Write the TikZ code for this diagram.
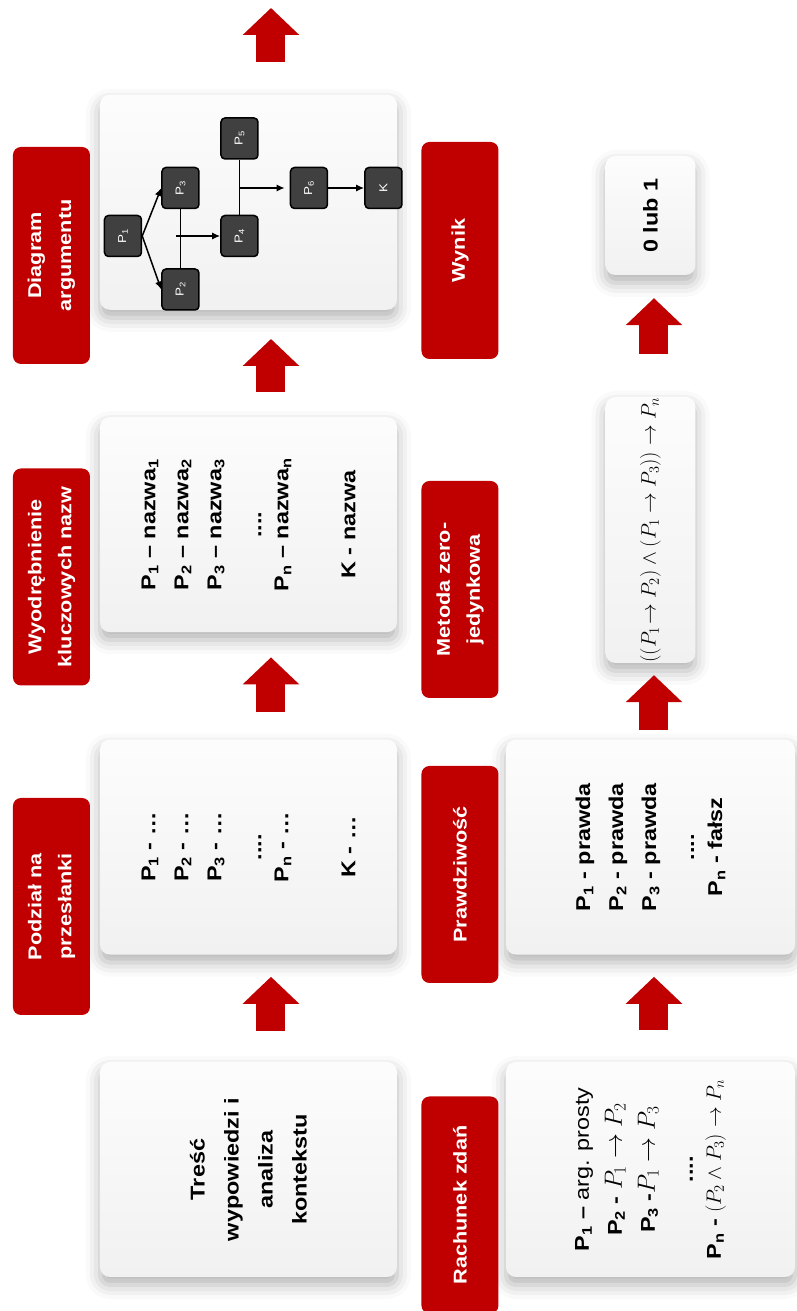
\documentclass[tikz,border=0pt]{standalone}
\usepackage[no-math]{fontspec}
\setmainfont{Liberation Sans}[FakeStretch=1.17]
\usepackage{xcolor}
\usepackage{tikz}
\usetikzlibrary{arrows.meta, positioning, calc, shadows.blur}
\definecolor{labred}{RGB}{192,0,0}
\definecolor{keygray}{RGB}{64,64,64}
\newcommand{\prem}[1]{P\textsubscript{#1}}

\begin{document}
\begin{tikzpicture}[
    x=1pt, y=1pt, rotate=90, transform shape,
    node distance=107pt,
    box/.style={rectangle, rounded corners=10pt, top color=gray!2, bottom color=gray!11,
                inner sep=0pt, align=center, font=\bfseries\fontsize{20}{33}\selectfont,
                blur shadow={shadow xshift=0pt, shadow yshift=-8pt,
                             shadow blur radius=14pt, shadow opacity=30}},
    lbl/.style={rectangle, rounded corners=8pt, fill=labred, text=white, align=center,
                minimum width=217pt, minimum height=77pt,
                font=\bfseries\fontsize{18.5}{30}\selectfont},
    key/.style={rectangle, rounded corners=4pt, draw=black, line width=1.5pt, fill=keygray,
                text=white, minimum width=41pt, minimum height=37pt, inner sep=0pt,
                font=\fontsize{11.5}{12}\selectfont},
    bigarr/.style={labred, line width=29pt, -{Triangle[length=27pt, width=55pt]}},
    arr/.style={-{Latex[length=8pt, width=7pt]}, line width=1.5pt},
    link/.style={line width=1.5pt}
]
  \useasboundingbox (0,0) rectangle (1311,796);

  % first row
  \node[box, minimum width=215pt, minimum height=297pt,
        font=\bfseries\fontsize{20}{34}\selectfont] (tresc) at (141.5,547.5)
       {Treść\\wypowiedzi i\\analiza\\kontekstu};
  \node[box, minimum width=215pt, minimum height=297pt, right=of tresc] (podzial)
       {\prem{1} - …\\\prem{2} - …\\\prem{3} - …\\[7pt]....\\[-6pt]\prem{n} - …\\[34pt]K - …};
  \node[box, minimum width=215pt, minimum height=297pt, right=of podzial] (wyod)
       {\prem{1} – nazwa\textsubscript{1}\\\prem{2} – nazwa\textsubscript{2}\\
        \prem{3} – nazwa\textsubscript{3}\\[7pt]....\\[-6pt]\prem{n} – nazwa\textsubscript{n}\\[34pt]K - nazwa};
  \node[box, minimum width=215pt, minimum height=297pt, right=of wyod] (diagram) {};

  \node[lbl] (lpodzial)  at (404.5,744.5)  {Podział na\\przesłanki};
  \node[lbl] (lwyod)     at (734,744.5)    {Wyodrębnienie\\kluczowych nazw};
  \node[lbl] (ldiagram)  at (1055.5,744.5) {Diagram\\argumentu};

  % second row
  \node[box, minimum width=215pt, minimum height=289pt] (rachunek) at (141.5,145.5)
       {\prem{1} – {\mdseries arg. prosty}\\
        \prem{2} - {\fontsize{25}{33}\selectfont$P_1 \rightarrow P_2$}\\
        \prem{3} -{\fontsize{25}{33}\selectfont$P_1 \rightarrow P_3$}\\[5pt]
        ....\\[-5pt]
        \prem{n} - {\fontsize{20}{33}\selectfont$(P_2 \wedge P_3) \rightarrow P_n$}};
  \node[box, minimum width=215pt, minimum height=289pt, right=of rachunek] (prawda)
       {\prem{1} - prawda\\\prem{2} - prawda\\\prem{3} - prawda\\[5pt]....\\[-5pt]\prem{n} - fałsz};
  \node[box, minimum width=266pt, minimum height=90pt,
        font=\fontsize{20}{24}\selectfont] (formula) at (781,145.5)
       {$((P_1\!\rightarrow P_2)\wedge(P_1 \rightarrow P_3)) \rightarrow P_n$};
  \node[box, minimum width=119pt, minimum height=90pt] (wynik) at (1095.5,145.5) {0 lub 1};

  \node[lbl] (lrachunek) at (106,336)    {Rachunek zdań};
  \node[lbl] (lprawda)   at (436.5,336)  {Prawdziwość};
  \node[lbl] (lmetoda)   at (721.5,336)  {Metoda zero-\\jedynkowa};
  \node[lbl] (lwynik)    at (1060.5,336) {Wynik};

  % block arrows
  \coordinate (out) at (1303,525);
  \draw[bigarr, shorten <=31pt, shorten >=22pt] ([yshift=-22.5pt]tresc.east) -- ([yshift=-22.5pt]podzial.west);
  \draw[bigarr, shorten <=27pt, shorten >=25pt] ([yshift=-22.5pt]podzial.east) -- ([yshift=-22.5pt]wyod.west);
  \draw[bigarr, shorten <=25pt, shorten >=29pt] ([yshift=-22.5pt]wyod.east) -- ([yshift=-22.5pt]diagram.west);
  \draw[bigarr, shorten <=33pt] ([yshift=-22.5pt]diagram.east) -- (out);

  \draw[bigarr, shorten <=32pt, shorten >=22pt] ([yshift=-3.5pt]rachunek.east) -- ([yshift=-3.5pt]prawda.west);
  \draw[bigarr, shorten <=9pt, shorten >=12pt]  ([yshift=-3.5pt]prawda.east) -- ([yshift=-3.5pt]formula.west);
  \draw[bigarr, shorten <=43pt, shorten >=23pt] ([yshift=-3.5pt]formula.east) -- ([yshift=-3.5pt]wynik.west);

  % argument diagram
  \node[key] (p1) at (1075,673) {\prem{1}};
  \node[key, below left=19pt and 11pt of p1] (p2) {\prem{2}};
  \node[key, right=59pt of p2] (p3) {\prem{3}};
  \node[key, below=78pt of p1] (p4) {\prem{4}};
  \node[key, right=55pt of p4] (p5) {\prem{5}};
  \node[key, below=90pt of p3] (p6) {\prem{6}};
  \node[key, below=36pt of p6] (k) {K};

  \coordinate (j1) at ($(p2.east)!0.5!(p3.west)$);
  \coordinate (j2) at (p6.north |- p5.west);

  \draw[arr] (p1.south) -- (p2.north);
  \draw[arr] (p1.south) -- (p3.north);
  \draw[link] (p2.east) -- (p3.west);
  \draw[arr] ($(p4.north |- j1)+(0,4)$) -- (p4.north);
  \draw[link] (p4.east) -- (p5.west);
  \draw[arr, shorten >=5pt] (j2) -- (p6.north);
  \draw[arr] (p6.south) -- (k.north);
\end{tikzpicture}
\end{document}
